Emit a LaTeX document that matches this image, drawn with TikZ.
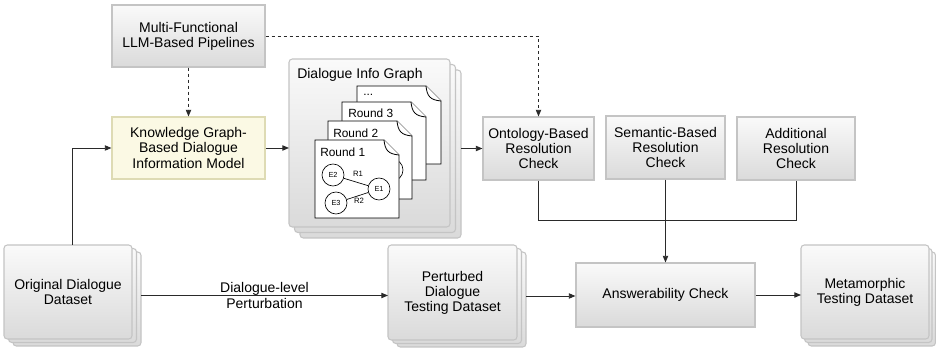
\documentclass[tikz,border=0pt]{standalone}
\usepackage{fontspec}
\setmainfont{Liberation Sans}
\usetikzlibrary{arrows.meta}
\definecolor{bordergray}{HTML}{C4C4C4}
\definecolor{topgray}{HTML}{FAFAFA}
\definecolor{botgray}{HTML}{DADADA}
\definecolor{kgfill}{HTML}{FBF9E4}
\definecolor{kgborder}{HTML}{DEDBB4}
\definecolor{linec}{HTML}{2A2A2A}
\newcommand\docshape[4]{%
  \draw[docst] (#1,#2) -- (#3-15,#2) -- (#3,#2+15) -- (#3,#4) -- (#1,#4) -- cycle;
  \draw[docst] (#3-15,#2) .. controls (#3-14,#2+10) and (#3-11,#2+14) .. (#3,#2+15);}
\begin{document}
\begin{tikzpicture}[x=0.75pt,y=-0.75pt,
  box/.style={draw=bordergray, line width=0.8pt, top color=topgray, bottom color=botgray,
    align=center, font=\fontsize{10.5}{11.3}\selectfont, inner sep=0pt},
  stk/.style={box, rounded corners=2.5pt},
  layer/.style={draw=bordergray, line width=0.8pt, top color=topgray, bottom color=botgray, rounded corners=2.5pt},
  ghost/.style={inner sep=0pt, outer sep=0pt},
  conn/.style={draw=linec, line width=0.7pt, -{Triangle[length=5pt,width=4pt]}},
  dconn/.style={conn, dash pattern=on 2.5pt off 2pt},
  plain/.style={draw=linec, line width=0.7pt},
  docst/.style={draw=black, fill=white, line width=0.6pt},
  rnd/.style={font=\fontsize{8.9}{10}\selectfont, anchor=west, inner sep=0pt},
  ent/.style={circle, draw=black, fill=white, line width=0.5pt, minimum size=22*0.75pt, inner sep=0pt, font=\fontsize{5.5}{6}\selectfont},
  rel/.style={font=\fontsize{5.8}{6}\selectfont, inner sep=0pt},
  lbl/.style={align=center, font=\fontsize{10.5}{11.3}\selectfont, inner sep=0pt}
]
\useasboundingbox[fill=white] (0,0) rectangle (936,348);

% single boxes
\node[box, minimum width=153*0.75pt, minimum height=62*0.75pt] (mf) at (188.5,36) {Multi-Functional\\LLM-Based Pipelines};
\node[box, draw=kgborder, top color=kgfill, bottom color=kgfill, minimum width=153*0.75pt, minimum height=62*0.75pt] (kg) at (188.5,148) {Knowledge Graph-\\Based Dialogue\\Information Model};
\node[box, minimum width=111*0.75pt, minimum height=63*0.75pt] (onto) at (538.5,148.5) {Ontology-Based\\Resolution\\Check};
\node[box, minimum width=119*0.75pt, minimum height=63*0.75pt] (sem) at (665.5,147.5) {Semantic-Based\\Resolution\\Check};
\node[box, minimum width=118*0.75pt, minimum height=63*0.75pt] (addl) at (796,148.5) {Additional\\Resolution\\Check};
\node[box, minimum width=179*0.75pt, minimum height=64*0.75pt] (ans) at (665.5,295) {Answerability Check};

% stacked: original dataset
\path[layer] (13,252) rectangle (141,346);
\path[layer] (8.5,248.5) rectangle (136.5,342.5);
\node[stk, minimum width=128*0.75pt, minimum height=94*0.75pt] (origf) at (68,292) {Original Dialogue\\Dataset};
\node[ghost, minimum width=137*0.75pt, minimum height=101*0.75pt] (orig) at (72.5,295.5) {};

% stacked: perturbed
\path[layer] (397,252) rectangle (526,347);
\path[layer] (392.5,248.5) rectangle (521.5,343.5);
\node[stk, minimum width=129*0.75pt, minimum height=95*0.75pt] (pertf) at (452.5,292.5) {Perturbed\\Dialogue\\Testing Dataset};
\node[ghost, minimum width=138*0.75pt, minimum height=102*0.75pt] (pert) at (457,296) {};

% stacked: metamorphic
\path[layer] (808,252) rectangle (935.5,346);
\path[layer] (804.5,248.5) rectangle (932,342.5);
\node[stk, minimum width=128*0.75pt, minimum height=94*0.75pt] (metaf) at (865,292) {Metamorphic\\Testing Dataset};
\node[ghost, minimum width=134.5*0.75pt, minimum height=101*0.75pt] (meta) at (868.25,295.5) {};

% stacked: dialogue info graph
\path[layer] (300,70) rectangle (461,238);
\path[layer] (294.5,64.5) rectangle (455.5,232.5);
\node[stk, minimum width=161*0.75pt, minimum height=168*0.75pt] (digf) at (369.5,143) {};
\node[ghost, minimum width=172*0.75pt, minimum height=179*0.75pt] (dig) at (375,148.5) {};
\node[lbl, anchor=west] (digt) at (297,75) {Dialogue Info Graph};

% documents
\docshape{357}{86}{441}{164}
\node[rnd] (dots) at (363,95) {...};
\docshape{342}{102}{426}{180}
\node[rnd] (r3) at (348,113) {Round 3};
\docshape{328}{121}{412}{199}
\node[rnd] (r2) at (333,133) {Round 2};
\node[ent] (r2e) at (392,170) {};
\docshape{315}{140}{399}{218}
\node[rnd] (r1) at (320,152) {Round 1};
\node[ent] (e2) at (333,175) {E2};
\node[ent] (e3) at (336,203) {E3};
\node[ent] (e1) at (379,189) {E1};
\draw[line width=0.5pt] (e2) -- (e1);
\draw[line width=0.5pt] (e3) -- (e1);
\node[rel] (rl1) at (358,174) {R1};
\node[rel] (rl2) at (359,201) {R2};

% connectors
\draw[dconn] (mf.south) -- (kg.north);
\draw[dconn] (mf.east) -| (onto.north);
\draw[conn] (orig.north) |- (kg.west);
\draw[conn] (kg.east) -- (kg.east -| dig.west);
\draw[conn] (dig.east |- onto.west) -- (onto.west);
\draw[plain] (onto.south) -- ++(0,40) -| (addl.south);
\draw[conn] (sem.south) -- (sem.south |- ans.north);
\draw[conn] (orig.east) -- (orig.east -| pert.west) node[lbl, midway] (pl) {Dialogue-level\\Perturbation};
\draw[conn] (pert.east) -- (pert.east -| ans.west);
\draw[conn] (ans.east) -- (ans.east -| meta.west);
\end{tikzpicture}
\end{document}
